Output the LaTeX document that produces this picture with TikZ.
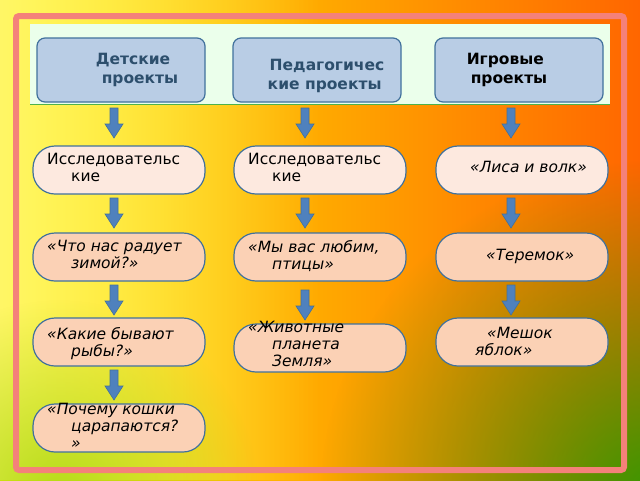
\documentclass[tikz,border=0pt]{standalone}
\usepackage{fontspec}
\setmainfont{DejaVu Sans}
\usetikzlibrary{arrows.meta,fadings}
\definecolor{hdrblue}{HTML}{B9CDE5}
\definecolor{edgeblue}{HTML}{41719C}
\definecolor{arrblue}{HTML}{4F81BD}
\definecolor{lightpeach}{HTML}{FDE9DF}
\definecolor{peach}{HTML}{FBD1B5}
\definecolor{framepink}{HTML}{F4817A}
\tikzfading[name=softspot,inner color=transparent!0,outer color=transparent!100]
\tikzset{
  head/.style={draw=edgeblue,line width=1.2pt,fill=hdrblue,rounded corners=8pt,
    minimum width=168pt,minimum height=64pt},
  headtxt/.style={align=left,font=\bfseries\fontsize{15.5}{19}\selectfont},
  topic/.style={draw=edgeblue,line width=1.2pt,rounded corners=22pt,
    minimum width=172pt,minimum height=48pt},
  txt/.style={align=left,anchor=north west,font=\fontsize{15.5}{17}\selectfont,inner sep=0pt},
  down/.style={draw=edgeblue,line width=0.6pt,fill=arrblue,line join=miter},
}
\newcommand\blockarrow[2]{% x, top y
  \filldraw[down] (#1-4,#2) -- (#1+4,#2) -- (#1+4,#2+16) -- (#1+9,#2+16) -- (#1,#2+30)
    -- (#1-9,#2+16) -- (#1-4,#2+16) -- cycle;}
\begin{document}
\begin{tikzpicture}[x=1pt,y=-1pt]
\useasboundingbox (0,0) rectangle (640,480);
% background
\shade[left color=yellow!85!orange,right color=orange!80!red] (0,0) rectangle (640,480);
\fill[yellow!60!white,path fading=east] (0,0) rectangle (320,480);
\begin{scope}
\clip (0,0) rectangle (640,480);
\fill[green!50!black!80!yellow,path fading=softspot] (660,500) circle (340);
\fill[yellow!70!green,path fading=softspot] (60,500) circle (200);
\end{scope}
\draw[framepink,line width=6pt,rounded corners=3pt] (16,16) rectangle (624,470);
\fill[green!8!white] (30,24) rectangle (610,104);
\draw[gray!60!green,line width=1pt] (30,104) -- (610,104);
% headers
\node[head] (h1) at (121,70) {};
\node[headtxt,text=edgeblue!70!black] at (137,70) {Детские\\\hspace{6pt}проекты};
\node[head] (h2) at (317,70) {};
\node[headtxt,text=edgeblue!70!black] at (327,76) {Педагогичес\\\hspace{-2pt}кие проекты};
\node[head] (h3) at (519,70) {};
\node[headtxt] at (507,70) {Игровые\\\hspace{4pt}проекты};
% column 1
\node[topic,fill=lightpeach] (a1) at (119,170) {};
\node[txt] at (47,153) {Исследовательс\\\hspace{24pt}кие};
\node[topic,fill=peach] (a2) at (119,257) {};
\node[txt] at (47,240) {\itshape «Что нас радует\\\hspace{24pt}\itshape зимой?»};
\node[topic,fill=peach] (a3) at (119,342) {};
\node[txt] at (47,327) {\itshape «Какие бывают\\\hspace{24pt}\itshape рыбы?»};
\node[topic,fill=peach] (a4) at (119,428) {};
\node[txt] at (47,403) {\itshape «Почему кошки\\\hspace{24pt}\itshape царапаются?\\\hspace{24pt}\itshape »};
% column 2
\node[topic,fill=lightpeach] (b1) at (320,170) {};
\node[txt] at (248,153) {Исследовательс\\\hspace{24pt}кие};
\node[topic,fill=peach] (b2) at (320,257) {};
\node[txt] at (248,240) {\itshape «Мы вас любим,\\\hspace{24pt}\itshape птицы»};
\node[topic,fill=peach] (b3) at (320,348) {};
\node[txt] at (248,321) {\itshape «Животные\\\hspace{24pt}\itshape планета\\\hspace{24pt}\itshape Земля»};
% column 3
\node[topic,fill=lightpeach] (c1) at (522,170) {};
\node[txt] at (470,161) {\itshape «Лиса и волк»};
\node[topic,fill=peach] (c2) at (522,257) {};
\node[txt] at (486,249) {\itshape «Теремок»};
\node[topic,fill=peach] (c3) at (522,342) {};
\node[txt] at (475,327) {\hspace{12pt}\itshape «Мешок\\\itshape яблок»};
% arrows
\blockarrow{114}{108}\blockarrow{114}{198}\blockarrow{114}{285}\blockarrow{114}{370}
\blockarrow{305}{108}\blockarrow{305}{198}\blockarrow{305}{290}
\blockarrow{511}{108}\blockarrow{511}{198}\blockarrow{511}{285}
\end{tikzpicture}
\end{document}
